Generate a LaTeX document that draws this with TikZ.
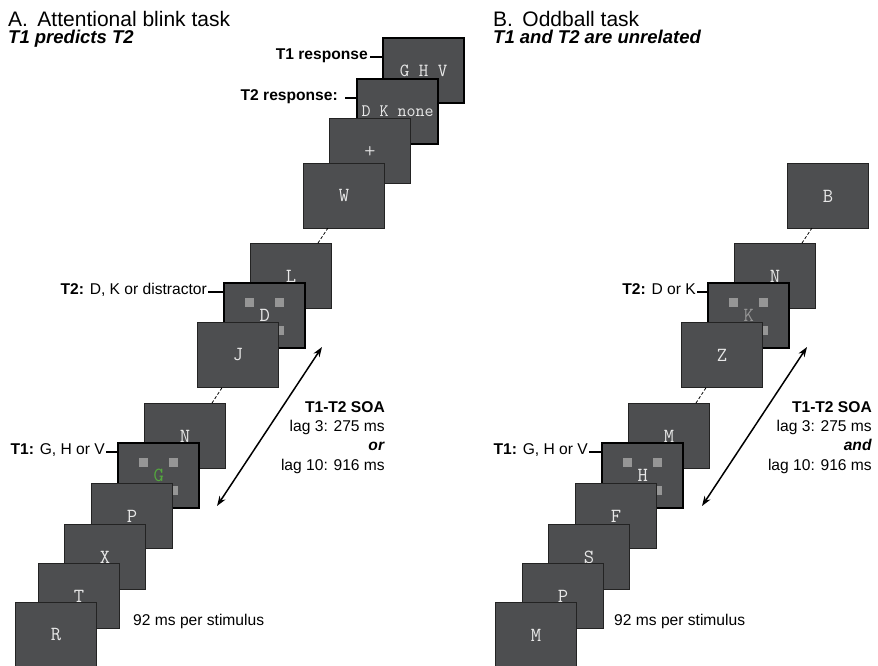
\documentclass[tikz,border=0pt]{standalone}
\usepackage{fontspec}
\setmainfont{Liberation Sans}
\usetikzlibrary{arrows.meta}
\definecolor{panelfill}{RGB}{77,78,80}
\definecolor{panelline}{RGB}{35,35,35}
\definecolor{lettercol}{RGB}{232,232,232}
\definecolor{sqcol}{RGB}{150,150,150}
\definecolor{greenG}{RGB}{84,168,62}
\definecolor{grayK}{RGB}{150,150,150}
\tikzset{
  panel/.style={draw=panelline, line width=0.9pt, fill=panelfill, minimum width=81pt, minimum height=65pt,
    inner sep=0pt, anchor=north west, text=lettercol, font=\ttfamily\fontsize{20}{20}\selectfont},
  target/.style={panel, draw=black, line width=2.4pt},
  lbl/.style={inner sep=0pt, font=\fontsize{15.6}{18}\selectfont},
  ttl/.style={inner sep=0pt, anchor=base west, font=\fontsize{21}{24}\selectfont},
  sub/.style={inner sep=0pt, anchor=base west, font=\bfseries\itshape\fontsize{18.5}{22}\selectfont},
  tick/.style={line width=1.2pt, black},
  dashlink/.style={line width=0.8pt, dash pattern=on 3pt off 2pt, black},
  soa/.style={line width=1.5pt, black, {Stealth[length=10pt,width=7pt]}-{Stealth[length=10pt,width=7pt]}},
}
\newcommand{\squares}[1]{%
  \fill[sqcol] ([shift={(-19.5,-17.5)}]#1.center) rectangle ++(9,9);
  \fill[sqcol] ([shift={(10.5,-17.5)}]#1.center) rectangle ++(9,9);
  \fill[sqcol] ([shift={(10.5,10.5)}]#1.center) rectangle ++(9,9);
  \fill[sqcol] ([shift={(-19.5,10.5)}]#1.center) rectangle ++(9,9);
}
\begin{document}
\begin{tikzpicture}[x=1pt, y=-1pt]
\useasboundingbox[fill=white] (0,0) rectangle (878,665);

% ---------- Titles ----------
\node[ttl] (titA) at (8,26) {A.\hspace{0.45em}Attentional blink task};
\node[sub] (subA) at (8,43.5) {T1 predicts T2};
\node[ttl] (titB) at (493,26) {B.\hspace{0.45em}Oddball task};
\node[sub] (subB) at (493,43.5) {T1 and T2 are unrelated};

% ---------- Left stack (A) ----------
\node[target] (pA14) at (382,37) {\fontsize{18.5}{18.5}\selectfont G H V};
\node[target] (pA13) at (356,78) {\fontsize{17.5}{17.5}\selectfont D K none};
\node[panel] (pA12) at (329,118) {\sffamily\bfseries\fontsize{13}{13}\selectfont +};
\node[panel] (pA11) at (303,163) {W};
\node[panel] (pA9) at (250,243) {L};
\node[target] (pA8) at (223,282) {D};
\squares{pA8}
\node[panel] (pA7) at (197,322) {J};
\node[panel] (pA5) at (144,403) {N};
\node[target] (pA4) at (117,442) {\textcolor{greenG}{G}};
\squares{pA4}
\node[panel] (pA3) at (91,483) {P};
\node[panel] (pA2) at (64,524) {X};
\node[panel] (pA1) at (38,563) {T};
\node[panel] (pA0) at (15,602) {R};

% dashed gaps
\coordinate (dA1s) at (212,403); \coordinate (dA1e) at (222.5,387);
\coordinate (dA2s) at (318,243); \coordinate (dA2e) at (328,228);
\draw[dashlink] (dA1s) -- (dA1e);
\draw[dashlink] (dA2s) -- (dA2e);

% labels
\node[lbl, anchor=mid east, font=\bfseries\fontsize{15.6}{18}\selectfont] (lT1r) at (368,57) {T1 response};
\draw[tick] ([xshift=2pt]lT1r.mid east) -- (lT1r.mid east -| pA14.west);
\node[lbl, anchor=mid east, font=\bfseries\fontsize{15.6}{18}\selectfont] (lT2r) at (338,98) {T2 response:};
\draw[tick] ([xshift=7pt]lT2r.mid east) -- (lT2r.mid east -| pA13.west);
\node[lbl, anchor=mid east] (lT2A) at (207,292) {\textbf{T2:} D, K or distractor};
\draw[tick] ([xshift=1pt]lT2A.mid east) -- (lT2A.mid east -| pA8.west);
\node[lbl, anchor=mid east] (lT1A) at (105,452) {\textbf{T1:} G, H or V};
\draw[tick] ([xshift=1pt]lT1A.mid east) -- (lT1A.mid east -| pA4.west);

% SOA
\coordinate (arA1) at (322,347); \coordinate (arA2) at (217,506);
\draw[soa] (arA1) -- (arA2);
\node[lbl, anchor=base east] (soaA1) at (385,412) {\textbf{T1-T2 SOA}};
\node[lbl, anchor=base east] (soaA2) at (385,431) {lag 3: 275 ms};
\node[lbl, anchor=base east] (soaA3) at (385,450) {\textbf{\textit{or}}};
\node[lbl, anchor=base east] (soaA4) at (385,470) {lag 10: 916 ms};
\node[lbl, anchor=base west] (rateA) at (133,625) {92 ms per stimulus};

% ---------- Right stack (B) ----------
\node[panel] (pB11) at (787,163) {B};
\node[panel] (pB9) at (734,243) {N};
\node[target] (pB8) at (707,282) {\textcolor{grayK}{K}};
\squares{pB8}
\node[panel] (pB7) at (681,322) {Z};
\node[panel] (pB5) at (628,403) {M};
\node[target] (pB4) at (601,442) {H};
\squares{pB4}
\node[panel] (pB3) at (575,483) {F};
\node[panel] (pB2) at (548,524) {S};
\node[panel] (pB1) at (522,563) {P};
\node[panel] (pB0) at (495,602) {M};

\coordinate (dB1s) at (696,403); \coordinate (dB1e) at (706.5,387);
\coordinate (dB2s) at (802,243); \coordinate (dB2e) at (812,228);
\draw[dashlink] (dB1s) -- (dB1e);
\draw[dashlink] (dB2s) -- (dB2e);

\node[lbl, anchor=mid east] (lT2B) at (696,292) {\textbf{T2:} D or K};
\draw[tick] ([xshift=1pt]lT2B.mid east) -- (lT2B.mid east -| pB8.west);
\node[lbl, anchor=mid east] (lT1B) at (588,452) {\textbf{T1:} G, H or V};
\draw[tick] ([xshift=1pt]lT1B.mid east) -- (lT1B.mid east -| pB4.west);

\coordinate (arB1) at (807,347); \coordinate (arB2) at (702,506);
\draw[soa] (arB1) -- (arB2);
\node[lbl, anchor=base east] (soaB1) at (872,412) {\textbf{T1-T2 SOA}};
\node[lbl, anchor=base east] (soaB2) at (872,431) {lag 3: 275 ms};
\node[lbl, anchor=base east] (soaB3) at (872,450) {\textbf{\textit{and}}};
\node[lbl, anchor=base east] (soaB4) at (872,470) {lag 10: 916 ms};
\node[lbl, anchor=base west] (rateB) at (614,625) {92 ms per stimulus};
\end{tikzpicture}
\end{document}
